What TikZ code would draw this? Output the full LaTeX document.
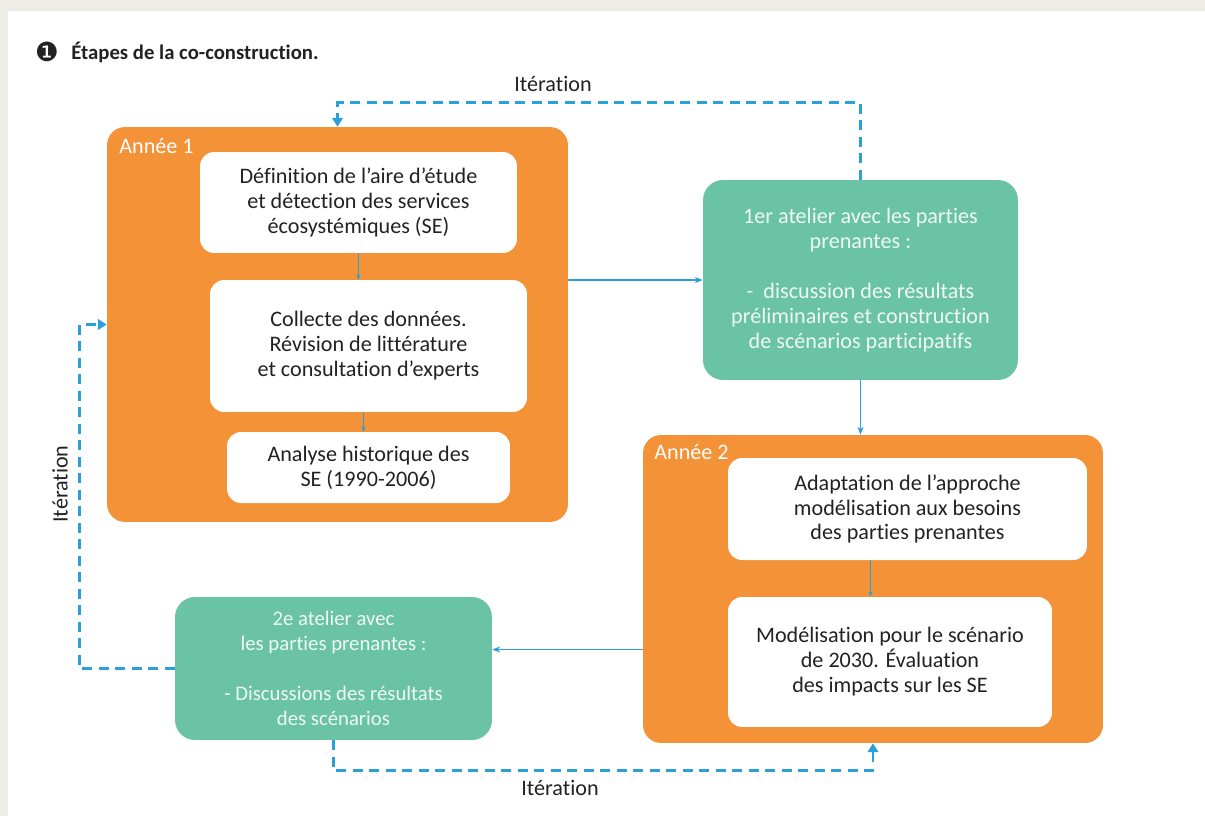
\documentclass[tikz,border=0pt]{standalone}
\usepackage{fontspec}
\setmainfont{Carlito}[Ligatures=NoCommon]
\newfontfamily\symbfont{DejaVu Sans}
\usetikzlibrary{arrows.meta, calc}
\definecolor{yearorange}{HTML}{F39237}
\definecolor{atgreen}{HTML}{69C3A4}
\definecolor{flowblue}{HTML}{2A9FD8}
\definecolor{textgray}{HTML}{222222}
\definecolor{pagegray}{HTML}{EEECE7}

\begin{document}
\begin{tikzpicture}[x=0.02cm, y=-0.02cm,
        font=\fontsize{12.6}{14.2}\selectfont,
        year/.style={rectangle, fill=yearorange, rounded corners=0.36cm, inner sep=0pt},
        stepbox/.style={rectangle, fill=white, rounded corners=0.28cm, inner sep=0pt, align=center, text=textgray},
        atelier/.style={rectangle, fill=atgreen, rounded corners=0.4cm, inner sep=0pt, align=center, text=white!90!atgreen},
        yearlabel/.style={anchor=base west, text=white, inner sep=0pt},
        flow/.style={draw=flowblue, line width=0.7pt, -{Stealth[length=4.5pt, width=3.5pt]}},
        subflow/.style={draw=flowblue, line width=0.5pt, -{Stealth[length=3pt, width=2.5pt]}},
        iter/.style={draw=flowblue, line width=1.4pt, dash pattern=on 0.2cm off 0.13cm, -{Triangle[length=5pt, width=6pt]}},
        iterlabel/.style={text=textgray, inner sep=0pt}]
        \fill[pagegray] (0,0) rectangle (1205,816);
        \fill[white] (8,11) rectangle (1205,816);
        \useasboundingbox (0,0) rectangle (1205,816);

        \node at (47,52) [inner sep=0pt, text=textgray] (num) {\symbfont\fontsize{15}{16}\selectfont ❶};
        \node at (71,59) [anchor=base west, inner sep=0pt, text=textgray] (title) {\bfseries\fontsize{11.8}{14}\selectfont Étapes de la co-construction.};

        % Année 1
        \node at (337.5,324.5) [year, minimum width=9.22cm, minimum height=7.9cm] (yearone) {};
        \node at (119,153) [yearlabel] (yearonelabel) {Année 1};
        \node at (358.5,202.5) [stepbox, minimum width=6.34cm, minimum height=2.02cm] (def) {Définition de l’aire d’étude\\et détection des services\\écosystémiques (SE)};
        \node at (368.5,346) [stepbox, minimum width=6.34cm, minimum height=2.64cm] (collect) {Collecte des données.\\Révision de littérature\\et consultation d’experts};
        \node at (368.5,467.5) [stepbox, minimum width=5.66cm, minimum height=1.42cm] (histo) {Analyse historique des\\SE (1990-2006)};

        % ateliers
        \node at (860.5,280) [atelier, minimum width=6.3cm, minimum height=4.0cm] (atelierone) {1er atelier avec les parties\\prenantes :\\[14.2pt]-\ \ discussion des résultats\\préliminaires et construction\\de scénarios participatifs};
        \node at (333.5,668.5) [atelier, minimum width=6.34cm, minimum height=2.86cm, font=\fontsize{11.8}{14.2}\selectfont] (ateliertwo) {2e atelier avec\\les parties prenantes :\\[14.2pt]- Discussions des résultats\\des scénarios};

        % Année 2
        \node at (873,589) [year, minimum width=9.2cm, minimum height=6.16cm] (yeartwo) {};
        \node at (654,459) [yearlabel] (yeartwolabel) {Année 2};
        \node at (907.5,509) [stepbox, minimum width=7.18cm, minimum height=2.04cm] (adapt) {Adaptation de l’approche\\modélisation aux besoins\\des parties prenantes};
        \node at (890,662) [stepbox, minimum width=6.48cm, minimum height=2.6cm] (model) {Modélisation pour le scénario\\de 2030. Évaluation\\des impacts sur les SE};

        \node at (553,84) [iterlabel] (itertop) {Itération};
        \node at (560,788) [iterlabel] (iterbottom) {Itération};
        \node at (60,484) [iterlabel, rotate=90] (iterleft) {Itération};

        \coordinate (ateliertwoin) at ($(ateliertwo.east)+(0,-19)$);

        \draw[subflow] (def.south) -- (def.south |- collect.north);
        \draw[subflow] ([xshift=-0.1cm]collect.south) -- ([xshift=-0.1cm]collect.south |- histo.north);
        \draw[subflow] ([xshift=-0.74cm]adapt.south) -- ([xshift=-0.74cm]adapt.south |- model.north);
        \draw[flow] (yearone.east |- atelierone.west) -- (atelierone.west);
        \draw[flow] (atelierone.south) -- (atelierone.south |- yeartwo.north);
        \draw[flow] (yeartwo.west |- ateliertwoin) -- (ateliertwoin);

        \draw[iter] (atelierone.north) -- ++(0,-77) -| (yearone.north);
        \draw[iter] (ateliertwo.west) -- ++(-95,0) |- (yearone.west);
        \draw[iter] (ateliertwo.south) -- ++(0,30) -| (yeartwo.south);
    \end{tikzpicture}
\end{document}
